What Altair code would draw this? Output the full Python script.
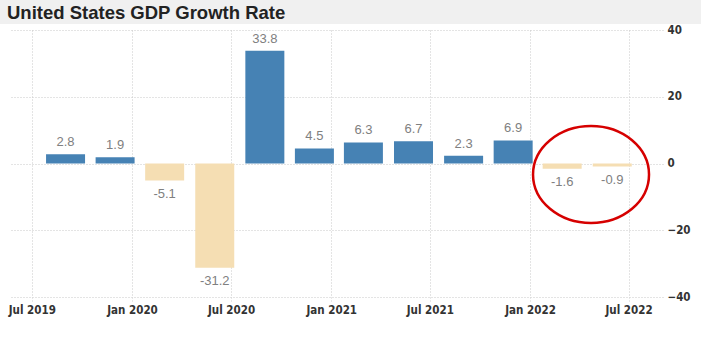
import altair as alt
import pandas as pd

# --- data -------------------------------------------------------------
quarter_dates = ["2019-09-01", "2019-12-01", "2020-03-01", "2020-06-01",
                 "2020-09-01", "2020-12-01", "2021-03-01", "2021-06-01",
                 "2021-09-01", "2021-12-01", "2022-03-01", "2022-06-01"]
growth = [2.8, 1.9, -5.1, -31.2, 33.8, 4.5, 6.3, 6.7, 2.3, 6.9, -1.6, -0.9]

tick_months = [(2019, 7), (2020, 1), (2020, 7), (2021, 1), (2021, 7), (2022, 1), (2022, 7)]
y_ticks = [-40, -20, 0, 20, 40]

circle_date = ["2022-04-23"]
circle_value = [-3.3]

title_text = "United States GDP Growth Rate"

df = pd.DataFrame({"date": quarter_dates, "value": growth})
df["label"] = [f"{v:.1f}" for v in growth]
df_pos = df[df["value"] >= 0]
df_neg = df[df["value"] < 0]
circle_df = pd.DataFrame({"date": circle_date, "value": circle_value})

x_scale = alt.Scale(
    type="utc",
    domain=[alt.DateTime(year=2019, month=6, date=2, utc=True),
            alt.DateTime(year=2022, month=8, date=24, utc=True)],
)
y_scale = alt.Scale(domain=[-40, 40], nice=False, zero=False)

axis_font = dict(labelFont="DejaVu Sans Condensed", labelFontSize=11.5,
                 labelFontWeight="bold", labelColor="#333333")

x_axis = alt.Axis(
    title=None,
    values=[alt.DateTime(year=y, month=m, date=1, utc=True) for y, m in tick_months],
    labelExpr="utcFormat(datum.value, '%b %Y')",
    grid=True, gridDash=[1, 2], gridColor="#c8c8c8",
    ticks=True, tickSize=5, tickColor="#d0d0d0", tickDash=[1, 2],
    domain=False, labelPadding=2, **axis_font,
)
y_axis = alt.Axis(
    title=None, orient="right", values=y_ticks,
    grid=True, gridDash=[1, 2], gridColor="#c8c8c8",
    ticks=False, domain=False,
    labelPadding=4, labelAlign="left", **axis_font,
)

x_enc = alt.X("date:T", scale=x_scale, axis=x_axis)
y_enc = alt.Y("value:Q", scale=y_scale, axis=y_axis)

strip = alt.Chart(alt.Data(values=[{}])).mark_rect(color="#f0f0f0").encode(
    x=alt.value(-11), x2=alt.value(690), y=alt.value(-30), y2=alt.value(-6)
)

title = alt.Chart(alt.Data(values=[{"t": title_text}])).mark_text(
    align="left", baseline="alphabetic", font="Liberation Sans",
    fontSize=18.5, fontWeight="bold", color="#222222",
).encode(x=alt.value(-4), y=alt.value(-11), text="t:N")

bars = alt.Chart(df).mark_bar(size=39).encode(
    x=x_enc,
    y=y_enc,
    y2=alt.datum(0),
    color=alt.condition("datum.value >= 0", alt.value("#4682B4"), alt.value("#F5DEB3")),
)

lab_pos = alt.Chart(df_pos).mark_text(
    baseline="bottom", dy=-5, font="Liberation Sans", fontSize=13, color="#808080"
).encode(x=alt.X("date:T", scale=x_scale), y=alt.Y("value:Q", scale=y_scale), text="label:N")

lab_neg = alt.Chart(df_neg).mark_text(
    baseline="top", dy=7, font="Liberation Sans", fontSize=13, color="#808080"
).encode(x=alt.X("date:T", scale=x_scale), y=alt.Y("value:Q", scale=y_scale), text="label:N")

ry = 0.836
k = 0.5523
ellipse_path = (
    f"M 1 0 C 1 {k*ry:.4f} {k:.4f} {ry} 0 {ry} "
    f"C {-k:.4f} {ry} -1 {k*ry:.4f} -1 0 "
    f"C -1 {-k*ry:.4f} {-k:.4f} {-ry} 0 {-ry} "
    f"C {k:.4f} {-ry} 1 {-k*ry:.4f} 1 0 Z"
)
ring = alt.Chart(circle_df).mark_point(
    shape=ellipse_path, size=116 * 116, filled=False, stroke="#d60000",
    strokeWidth=2.5, opacity=1,
).encode(x=alt.X("date:T", scale=x_scale), y=alt.Y("value:Q", scale=y_scale))

chart = alt.layer(strip, title, bars, lab_pos, lab_neg, ring).properties(
    width=652, height=267,
    autosize=alt.AutoSizeParams(type="none"),
    padding={"left": 11, "top": 30, "right": 38, "bottom": 48},
    background="white",
).configure_view(stroke=None)

chart.save("out.html", embed_options={"renderer": "svg", "actions": False})
